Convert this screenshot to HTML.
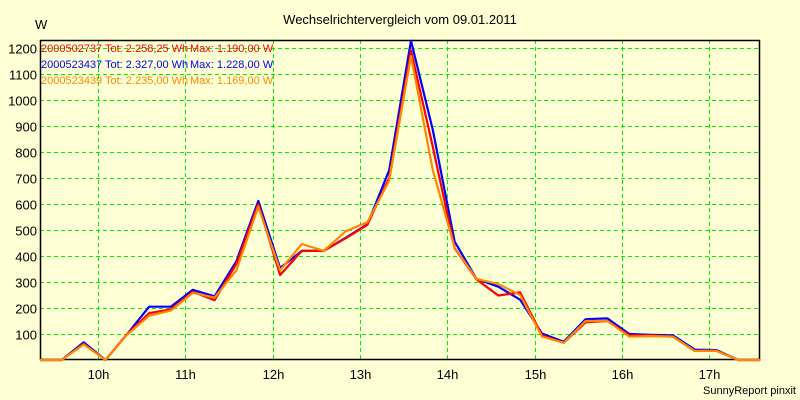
<!DOCTYPE html>
<html><head><meta charset="utf-8"><style>
body{margin:0;background:#ffffd6;}
svg{display:block;font-family:"Liberation Sans",Arial,sans-serif;}
</style></head><body>
<svg id="chart" width="800" height="400">
<rect x="0" y="0" width="800" height="400" fill="#ffffd6"/>
<text x="400" y="24" text-anchor="middle" font-size="13" fill="#000">Wechselrichtervergleich vom 09.01.2011</text>
<text x="35" y="29" font-size="13" fill="#000">W</text>
<g id="grid"></g>
<g id="axes"></g>
<g id="series"></g>
<g id="legend"></g>
<text x="796" y="394" text-anchor="end" font-size="11" fill="#000">SunnyReport pinxit</text>
</svg>
<script>
const times = ["9:20","9:35","9:50","10:05","10:20","10:35","10:50","11:05","11:20","11:35","11:50","12:05","12:20","12:35","12:50","13:05","13:20","13:35","13:50","14:05","14:20","14:35","14:50","15:05","15:20","15:35","15:50","16:05","16:20","16:35","16:50","17:05","17:20","17:35"];
const blueValues = [0,0,68,0,100,205,205,270,245,380,612,354,420,420,470,522,730,1228,885,455,312,282,232,102,70,157,160,100,97,95,40,38,0,0];
const redValues = [0,0,62,0,100,180,195,262,230,370,600,327,420,420,468,520,700,1190,820,430,310,248,260,95,66,145,150,95,95,90,35,35,0,0];
const orangeValues = [0,0,60,0,98,170,190,258,240,345,590,345,446,420,495,530,690,1169,730,432,312,292,250,90,66,150,150,90,92,90,35,35,0,0];
const yTicks = [100,200,300,400,500,600,700,800,900,1000,1100,1200];
const xTickLabels = ["10h","11h","12h","13h","14h","15h","16h","17h"];
const xTickHours = [10,11,12,13,14,15,16,17];
const legendNames = ["2000502737","2000523437","2000523439"];
const legendTotals = ["Tot: 2.258,25 Wh","Tot: 2.327,00 Wh","Tot: 2.235,00 Wh"];
const legendMax = ["Max: 1.190,00 W","Max: 1.228,00 W","Max: 1.169,00 W"];

const L=40,R=760,T=40,B=360;
const NS="http://www.w3.org/2000/svg";
function toHours(s){const p=s.split(":");return +p[0]+ +p[1]/60;}
const h0=toHours(times[0]), pxPerHour=87.3;
function xScale(h){return L+(h-h0)*pxPerHour;}
function yScale(v){return B-v*0.26;}
function mk(tag,attrs,parent){const e=document.createElementNS(NS,tag);for(const k in attrs)e.setAttribute(k,attrs[k]);parent.appendChild(e);return e;}

const grid=document.getElementById('grid'),axes=document.getElementById('axes'),ser=document.getElementById('series'),leg=document.getElementById('legend');
yTicks.forEach(v=>{
  const y=Math.round(yScale(v))+0.5;
  const l=mk('line',{x1:L,x2:R,y1:y,y2:y,stroke:'#00ee00','stroke-dasharray':'4,3','stroke-width':1},grid);
  
  
  const t=mk('text',{x:L-3,y:y+5,'text-anchor':'end','font-size':13,fill:'#000'},axes);
  t.textContent=v;
  
  
});
xTickHours.forEach((h,i)=>{
  const x=Math.round(xScale(h))+0.5;
  const l=mk('line',{x1:x,x2:x,y1:T,y2:B,stroke:'#00ee00','stroke-dasharray':'4,3','stroke-width':1},grid);
  
  
  const t=mk('text',{x:x,y:B+19,'text-anchor':'middle','font-size':13,fill:'#000'},axes);
  t.textContent=xTickLabels[i];
  
  
});
const frame=mk('path',{d:`M${L+0.5},${T+0.5} H${R-0.5} V${B-0.5} H${L+0.5} Z`,fill:'none',stroke:'#000','stroke-width':1.5},axes);



function drawSeries(vals,color,name){
  const pts=vals.map((v,i)=>xScale(toHours(times[i])).toFixed(1)+','+yScale(v).toFixed(1)).join(' ');
  const p=mk('polyline',{points:pts,fill:'none',stroke:color,'stroke-width':2.2,'stroke-linejoin':'round'},ser);
  
  
}
drawSeries(blueValues,'#0000ff','series-2000523437');
drawSeries(redValues,'#ff0000','series-2000502737');
drawSeries(orangeValues,'#ff8800','series-2000523439');

const colors=['#ff0000','#0000ff','#ff8800'];
legendNames.forEach((n,i)=>{
  const y=52+i*16;
  const g=mk('g',{},leg);
  
  
  const a=mk('text',{x:41,y:y,'font-size':11,fill:colors[i]},g);a.textContent=n;
  const b=mk('text',{x:105,y:y,'font-size':11,fill:colors[i]},g);b.textContent=legendTotals[i];
  const c=mk('text',{x:190,y:y,'font-size':11,fill:colors[i]},g);c.textContent=legendMax[i];
});
</script>
</body></html>
